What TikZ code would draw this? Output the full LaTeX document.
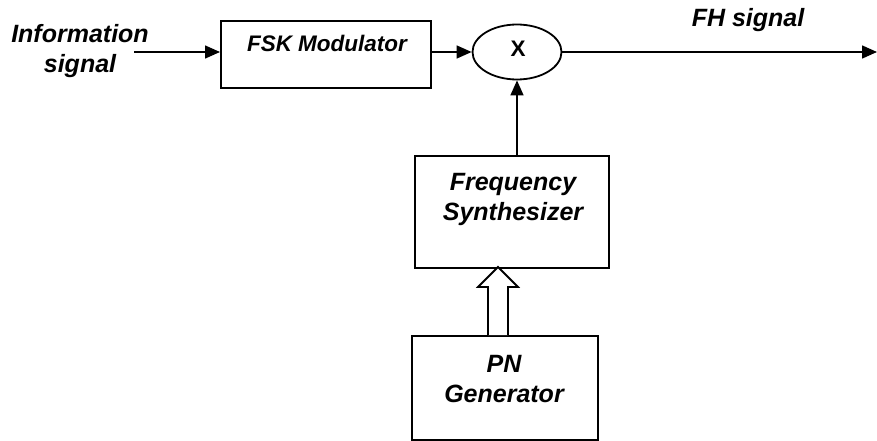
\documentclass[tikz,border=0pt]{standalone}
\usepackage{fontspec}
\setmainfont{Liberation Sans}
\usetikzlibrary{shapes.geometric,arrows.meta}
\begin{document}
\begin{tikzpicture}[x=1pt,y=-1pt,
  txt/.style={font=\fontsize{25}{30}\selectfont\bfseries\itshape, align=center, inner sep=0pt},
  blk/.style={draw, line width=1.8pt, inner sep=0pt, anchor=north west},
  conn/.style={line width=1.5pt, -{Triangle[length=15pt,width=13pt]}}]
\useasboundingbox (0,0) rectangle (877,441);
% blocks
\node[blk, minimum width=210pt, minimum height=67pt] (fsk) at (220,20) {};
\node[txt, anchor=base, font=\fontsize{22.5}{30}\selectfont\bfseries\itshape] (fsktxt) at (327,52) {FSK Modulator};
\node[draw, ellipse, line width=1.8pt, minimum width=89pt, minimum height=55pt, inner sep=0pt] (mix) at (517,52) {};
\node[txt, anchor=base, font=\fontsize{22.5}{30}\selectfont\bfseries] (x) at (518,57) {X};
\node[blk, minimum width=194pt, minimum height=112pt] (fs) at (414,155) {};
\node[txt, anchor=base] (fstxt) at (513,220) {Frequency\\Synthesizer};
\node[blk, minimum width=186pt, minimum height=104pt] (pn) at (411,335) {};
\node[txt, anchor=base] (pntxt) at (504,402) {PN\\Generator};
% labels
\node[txt, anchor=base] (info) at (80,73) {Information\\signal};
\node[txt, anchor=base] (fh) at (748,27) {FH signal};
% connectors
\coordinate (infoend) at (134,52);
\coordinate (outend) at (877,52);
\draw[conn] (infoend) -- (fsk.west |- infoend);
\draw[conn] (fsk.east |- mix.west) -- (mix.west);
\draw[conn] (mix.east) -- (outend);
\draw[conn] (fs.north -| mix.south) -- (mix.south);
% hollow arrow
\draw[line width=1.8pt, fill=white, line join=miter]
  (488,335) -- (488,287) -- (478,287) -- (498,267) -- (518,287) -- (508,287) -- (508,335);
\end{tikzpicture}
\end{document}
